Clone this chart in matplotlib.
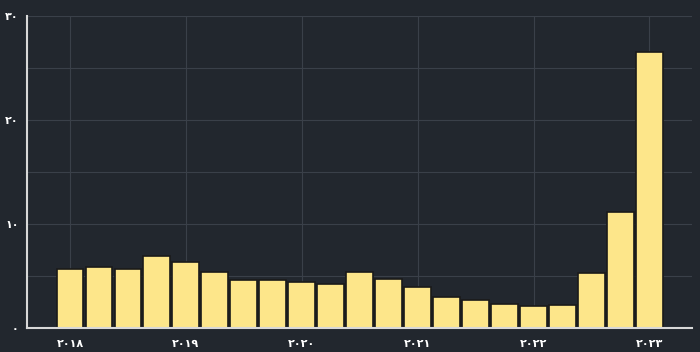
import matplotlib
matplotlib.use("Agg")
import matplotlib.pyplot as plt

quarters = ["2018Q1", "2018Q2", "2018Q3", "2018Q4",
            "2019Q1", "2019Q2", "2019Q3", "2019Q4",
            "2020Q1", "2020Q2", "2020Q3", "2020Q4",
            "2021Q1", "2021Q2", "2021Q3", "2021Q4",
            "2022Q1", "2022Q2", "2022Q3", "2022Q4",
            "2023Q1"]
values = [5.72, 5.88, 5.66, 6.88, 6.30, 5.37, 4.63, 4.63, 4.40, 4.24,
          5.37, 4.72, 3.92, 3.02, 2.70, 2.31, 2.09, 2.22, 5.27, 11.19, 26.55]
year_tick_index = [0, 4, 8, 12, 16, 20]
year_labels = ["٢٠١٨", "٢٠١٩", "٢٠٢٠", "٢٠٢١", "٢٠٢٢", "٢٠٢٣"]
y_ticks = [0, 10, 20, 30]
y_labels = ["٠", "١٠", "٢٠", "٣٠"]

bg = "#22272e"
fig = plt.figure(figsize=(7.0, 3.52), dpi=100, facecolor=bg)
ax = fig.add_axes([27/700, 1-328/352, (692-27)/700, (328-16)/352], facecolor=bg)

x = list(range(len(quarters)))
ax.bar(x, values, width=0.92, color="#fde68a", edgecolor="#1a1a1a", linewidth=1.2, zorder=3)

ax.set_xlim(-1.48, 21.47)
ax.set_ylim(0, 30)
ax.set_xticks(year_tick_index)
ax.set_xticklabels(year_labels)
ax.set_yticks(y_ticks)
ax.set_yticklabels(y_labels)
ax.set_yticks([5, 15, 25], minor=True)

ax.grid(True, which="both", color="#3a4049", linewidth=0.8, zorder=0)
ax.grid(False, which="minor", axis="x")
for s in ["top", "right"]:
    ax.spines[s].set_visible(False)
for s in ["left", "bottom"]:
    ax.spines[s].set_color("#d8d8d8")
    ax.spines[s].set_linewidth(1.5)
    ax.spines[s].set_zorder(4)

ax.tick_params(axis="both", which="both", length=0, colors="white", labelsize=8)
ax.tick_params(axis="x", pad=8)
ax.tick_params(axis="y", pad=6)
for lbl in ax.get_xticklabels() + ax.get_yticklabels():
    lbl.set_fontweight("bold")
    lbl.set_family(["DejaVu Sans"])

fig.savefig("out.png", dpi=100, facecolor=bg)
